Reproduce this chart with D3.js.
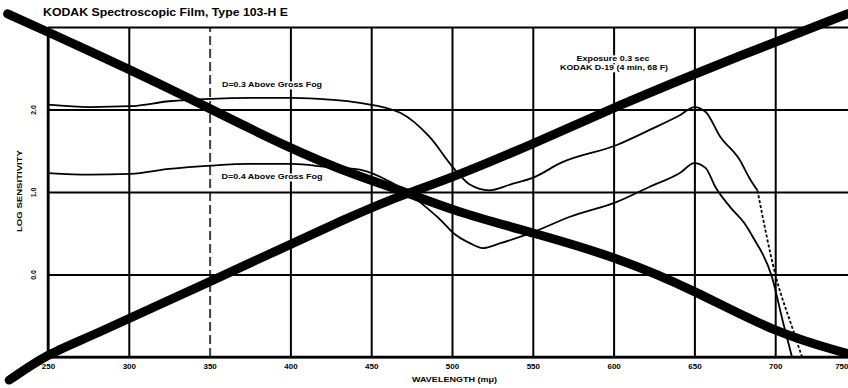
<!DOCTYPE html>
<html>
<head>
<meta charset="utf-8">
<script src="https://cdn.jsdelivr.net/npm/d3@7"></script>
<style>
  body { margin: 0; background: #fff; }
  svg { display: block; font-family: 'Liberation Sans', Arial, sans-serif; font-weight: bold; }
</style>
</head>
<body>
<div id="chart"></div>
<script>
// tick labels
const wavelengthTicks = [250, 300, 350, 400, 450, 500, 550, 600, 650, 700, 750];
const sensitivityTicks = [-1, 0, 1, 2, 3];
const sensitivityLabels = {0: '0.0', 1: '1.0', 2: '2.0'};

// D=0.3 above gross fog (upper thin curve), solid part then dashed tail
const fog03Wl  = [250, 276, 301, 325, 351, 375, 401, 424, 443, 468, 486, 501, 511, 523, 536, 551, 567, 602, 622, 641, 650, 657, 666, 678, 684, 689];
const fog03Val = [2.06, 2.03, 2.04, 2.10, 2.13, 2.14, 2.14, 2.12, 2.08, 1.96, 1.67, 1.29, 1.09, 1.02, 1.09, 1.18, 1.35, 1.57, 1.75, 1.93, 2.03, 1.97, 1.67, 1.39, 1.17, 1.02];
const fog03TailWl  = [689, 700.5, 711, 716.6];
const fog03TailVal = [1.02, -0.03, -0.67, -1.0];

// D=0.4 above gross fog (lower thin curve)
const fog04Wl  = [250, 276, 301, 325, 351, 375, 401, 424, 443, 462, 473, 480, 493, 501, 511, 519, 530, 551, 573, 602, 622, 641, 650, 657, 663, 672, 681, 686, 698, 705, 710.4];
const fog04Val = [1.23, 1.21, 1.22, 1.28, 1.32, 1.34, 1.34, 1.30, 1.27, 1.12, 0.99, 0.88, 0.66, 0.50, 0.38, 0.32, 0.38, 0.52, 0.70, 0.88, 1.06, 1.23, 1.35, 1.29, 1.06, 0.82, 0.62, 0.46, -0.03, -0.59, -1.0];

// heavy strokes crossing the sheet
const strokeDownWl  = [225, 250, 301, 332, 400, 443, 473, 501, 551, 602, 650, 700, 745];
const strokeDownVal = [3.16, 2.94, 2.48, 2.19, 1.52, 1.18, 0.99, 0.77, 0.50, 0.21, -0.19, -0.71, -0.96];
const strokeUpWl  = [226, 250, 272, 351, 443, 473, 501, 551, 602, 666, 745];
const strokeUpVal = [-1.28, -0.96, -0.79, -0.08, 0.76, 0.99, 1.18, 1.59, 2.04, 2.56, 3.16];

const W = 848, H = 388;
const plot = {left: 48, top: 27, bottom: 357, right: 856};

const svg = d3.select('#chart').append('svg')
  .attr('width', W)
  .attr('height', H)
  .attr('viewBox', [0, 0, W, H].toString());

const x = d3.scaleLinear().domain([250, 750]).range([plot.left, plot.right]);
const y = d3.scaleLinear().domain([-1, 3]).range([plot.bottom, plot.top]);

// vertical grid + wavelength labels
const xAxis = svg.append('g')
  .attr('transform', `translate(0,${plot.bottom})`)
  .call(d3.axisBottom(x).tickValues(wavelengthTicks)
    .tickSize(-(plot.bottom - plot.top)).tickSizeOuter(0).tickPadding(6)
    .tickFormat(d3.format('d')));
xAxis.select('.domain').remove();
xAxis.selectAll('.tick line')
  .style('stroke', '#000')
  .style('stroke-width', 2)
  .style('stroke-dasharray', d => d === 350 ? '9,4' : null)
  .style('stroke-opacity', d => d === 350 ? 0.75 : 1);
xAxis.selectAll('.tick text')
  .style('font-size', '8px')
  .style('font-weight', 'bold')
  .style('fill', '#000');
// last label sits on the page edge; pull it inside
xAxis.selectAll('.tick text')
  .filter(d => d === 750)
  .attr('text-anchor', 'end')
  .attr('x', W - x(750));

// horizontal grid + log sensitivity labels
const yAxis = svg.append('g')
  .attr('transform', `translate(${plot.left},0)`)
  .call(d3.axisLeft(y).tickValues(sensitivityTicks)
    .tickSize(-(W - plot.left)).tickSizeOuter(0)
    .tickFormat(d => sensitivityLabels[d] || ''));
yAxis.select('.domain').remove();
yAxis.selectAll('.tick line')
  .style('stroke', '#000')
  .style('stroke-width', 2);
yAxis.selectAll('.tick text')
  .attr('x', 0)
  .attr('dy', '0.35em')
  .attr('text-anchor', 'middle')
  .attr('transform', 'translate(-14,0) rotate(-90)')
  .style('font-size', '7px')
  .style('font-weight', 'bold')
  .style('fill', '#000');

// axis frame
svg.append('path')
  .attr('d', `M ${plot.left},${plot.top} L ${plot.left},${plot.bottom} L ${W},${plot.bottom}`)
  .style('fill', 'none')
  .style('stroke', '#000')
  .style('stroke-width', 2.5);

// labels on the sheet, each with a white patch behind it
function label(txt, cx, cy, len, size) {
  const g = svg.append('g');
  const t = g.append('text')
    .attr('x', cx)
    .attr('y', cy)
    .attr('dy', '0.35em')
    .attr('text-anchor', 'middle')
    .attr('textLength', len)
    .attr('lengthAdjust', 'spacingAndGlyphs')
    .style('font-size', size + 'px')
    .text(txt);
  const b = t.node().getBBox();
  g.insert('rect', 'text')
    .attr('x', b.x - 2).attr('y', b.y).attr('width', b.width + 4).attr('height', b.height)
    .style('fill', '#fff');
  return g;
}

label('D=0.3 Above Gross Fog', 272, 85, 100, 7);
label('D=0.4 Above Gross Fog', 272, 177, 101, 7);
label('Exposure 0.3 sec', 613, 59, 73, 6.5);
label('KODAK D-19 (4 min, 68 F)', 614, 68, 108, 6.5);

const line = d3.line().curve(d3.curveMonotoneX);
const pts = (xs, vs) => xs.map((w, i) => [x(w), y(vs[i])]);

svg.append('path')
  .attr('d', line(pts(fog03Wl, fog03Val)))
  .style('fill', 'none').style('stroke', '#000').style('stroke-width', 1.8);
svg.append('path')
  .attr('d', line(pts(fog03TailWl, fog03TailVal)))
  .style('fill', 'none').style('stroke', '#000').style('stroke-width', 1.8)
  .style('stroke-dasharray', '3,2');
svg.append('path')
  .attr('d', line(pts(fog04Wl, fog04Val)))
  .style('fill', 'none').style('stroke', '#000').style('stroke-width', 1.8);

const heavy = d3.line().curve(d3.curveBasis);
[[strokeDownWl, strokeDownVal], [strokeUpWl, strokeUpVal]].forEach(([xs, vs]) => {
  svg.append('path')
    .attr('d', heavy(pts(xs, vs)))
    .style('fill', 'none')
    .style('stroke', '#000')
    .style('stroke-width', 9)
    .style('stroke-linecap', 'round');
});

// titles
svg.append('text')
  .attr('x', 43).attr('y', 16)
  .attr('textLength', 245).attr('lengthAdjust', 'spacingAndGlyphs')
  .style('font-size', '10px')
  .text('KODAK Spectroscopic Film, Type 103-H E');

svg.append('text')
  .attr('transform', 'translate(22,191) rotate(-90)')
  .attr('text-anchor', 'middle')
  .attr('textLength', 82).attr('lengthAdjust', 'spacingAndGlyphs')
  .style('font-size', '7px')
  .text('LOG SENSITIVITY');

svg.append('text')
  .attr('x', 412).attr('y', 382)
  .attr('textLength', 85).attr('lengthAdjust', 'spacingAndGlyphs')
  .style('font-size', '7px')
  .text('WAVELENGTH (mμ)');
</script>
</body>
</html>
